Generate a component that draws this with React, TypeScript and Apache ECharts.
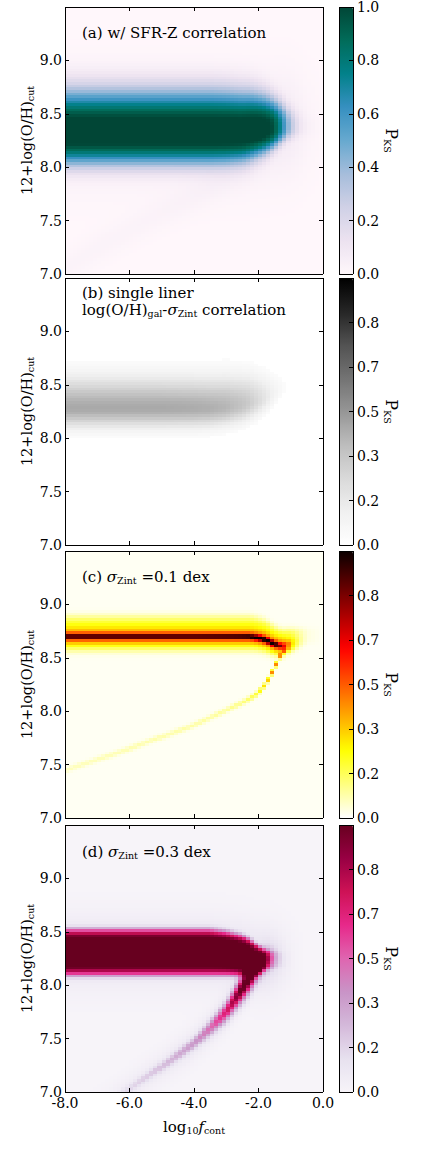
import React, { useEffect, useRef } from "react";
import * as echarts from "echarts";

// ---------- values ----------
// x positions (log10 f_cont) at which ridge parameters were read
const X_KEYS = [-8, -7, -6, -5, -4, -3.5, -3, -2.5, -2.25, -2, -1.75, -1.5, -1.25, -1, -0.75, -0.5, 0];

// Panel (a): w/ SFR-Z correlation
const A_BAND_CENTER = [8.34, 8.34, 8.34, 8.34, 8.34, 8.34, 8.34, 8.34, 8.35, 8.36, 8.37, 8.38, 8.39, 8.39, 8.39, 8.39, 8.39];
const A_HALF_UP = [0.32, 0.32, 0.32, 0.32, 0.32, 0.32, 0.315, 0.305, 0.295, 0.275, 0.25, 0.215, 0.175, 0.135, 0.11, 0.1, 0.1];
const A_HALF_DOWN = [0.27, 0.27, 0.27, 0.27, 0.27, 0.27, 0.265, 0.25, 0.24, 0.22, 0.2, 0.17, 0.135, 0.1, 0.09, 0.09, 0.09];
const A_BAND_PEAK = [0.99, 0.99, 0.99, 0.99, 0.99, 0.99, 0.99, 0.99, 0.99, 0.99, 0.96, 0.88, 0.6, 0.25, 0.07, 0.02, 0];
const A_HALO_PEAK = [0.08, 0.08, 0.08, 0.08, 0.08, 0.08, 0.08, 0.08, 0.08, 0.08, 0.08, 0.08, 0.08, 0.07, 0.05, 0.025, 0.005];
const A_BRANCH_CENTER = [7.05, 7.24, 7.41, 7.57, 7.72, 7.8, 7.88, 7.96, 8.0, 8.05, 8.12, 8.2, 8.28, 8.33, 8.35, 8.36, 8.36];
const A_BRANCH_PEAK = [0.025, 0.025, 0.025, 0.025, 0.025, 0.025, 0.025, 0.025, 0.025, 0.025, 0.02, 0.015, 0.01, 0.005, 0, 0, 0];

// Panel (b): single liner
const B_BAND_CENTER = [8.28, 8.28, 8.28, 8.28, 8.28, 8.28, 8.29, 8.31, 8.33, 8.35, 8.38, 8.42, 8.47, 8.5, 8.5, 8.5, 8.5];
const B_SIGMA_UP = [0.28, 0.28, 0.28, 0.28, 0.28, 0.28, 0.28, 0.27, 0.26, 0.24, 0.21, 0.17, 0.12, 0.1, 0.1, 0.1, 0.1];
const B_SIGMA_DOWN = [0.17, 0.17, 0.17, 0.17, 0.17, 0.165, 0.16, 0.155, 0.15, 0.14, 0.13, 0.12, 0.1, 0.08, 0.08, 0.08, 0.08];
const B_PEAK = [0.43, 0.43, 0.43, 0.43, 0.42, 0.41, 0.39, 0.34, 0.3, 0.24, 0.17, 0.1, 0.045, 0.01, 0, 0, 0];

// Panel (c): sigma = 0.1 dex
const C_CORE_CENTER = [8.7, 8.7, 8.7, 8.7, 8.7, 8.7, 8.7, 8.7, 8.7, 8.69, 8.67, 8.63, 8.61, 8.64, 8.66, 8.68, 8.68];
const C_CORE_PEAK = [0.48, 0.48, 0.48, 0.48, 0.48, 0.49, 0.5, 0.52, 0.54, 0.56, 0.58, 0.6, 0.3, 0.05, 0, 0, 0];
const C_MID_PEAK = [0.25, 0.25, 0.25, 0.25, 0.25, 0.25, 0.25, 0.25, 0.25, 0.25, 0.25, 0.25, 0.22, 0.12, 0.04, 0, 0];
const C_WING_PEAK = [0.22, 0.22, 0.22, 0.22, 0.22, 0.22, 0.22, 0.22, 0.22, 0.22, 0.22, 0.22, 0.21, 0.15, 0.07, 0.02, 0];
const C_WING_HALF = [0.145, 0.145, 0.145, 0.145, 0.145, 0.145, 0.145, 0.145, 0.145, 0.14, 0.135, 0.125, 0.115, 0.1, 0.085, 0.07, 0.07];
const C_BRANCH_CENTER = [7.45, 7.55, 7.65, 7.76, 7.87, 7.94, 8.01, 8.08, 8.12, 8.17, 8.26, 8.4, 8.56, 8.6, 8.6, 8.6, 8.6];
const C_BRANCH_PEAK = [0.055, 0.06, 0.065, 0.07, 0.075, 0.08, 0.09, 0.11, 0.14, 0.2, 0.3, 0.45, 0.3, 0.05, 0, 0, 0];
const C_BASE = 0.012;

// Panel (d): sigma = 0.3 dex
const D_BAND_CENTER = [8.31, 8.31, 8.31, 8.31, 8.31, 8.31, 8.3, 8.28, 8.26, 8.24, 8.24, 8.24, 8.24, 8.24, 8.24, 8.24, 8.24];
const D_BAND_HALF = [0.2, 0.2, 0.2, 0.2, 0.2, 0.2, 0.19, 0.175, 0.16, 0.125, 0.09, 0.075, 0.07, 0.07, 0.07, 0.07, 0.07];
const D_BAND_PEAK = [0.96, 0.96, 0.96, 0.96, 0.96, 0.96, 0.96, 0.95, 0.92, 0.75, 0.38, 0.1, 0.03, 0, 0, 0, 0];
const D_HALO_PEAK = [0.12, 0.12, 0.12, 0.12, 0.12, 0.12, 0.12, 0.12, 0.12, 0.12, 0.12, 0.1, 0.06, 0.03, 0.01, 0, 0];
const D_BRANCH_CENTER = [6.6, 6.82, 7.03, 7.24, 7.46, 7.6, 7.75, 7.97, 8.08, 8.18, 8.24, 8.26, 8.27, 8.27, 8.27, 8.27, 8.27];
const D_BRANCH_PEAK = [0.08, 0.08, 0.1, 0.17, 0.28, 0.38, 0.58, 0.88, 0.92, 0.75, 0.4, 0.1, 0, 0, 0, 0, 0];
const D_BRANCH_WIDTH = [0.04, 0.04, 0.04, 0.045, 0.05, 0.065, 0.08, 0.11, 0.12, 0.1, 0.085, 0.08, 0.08, 0.08, 0.08, 0.08, 0.08];
const D_BRANCH_HALO = [0.04, 0.04, 0.05, 0.06, 0.08, 0.09, 0.1, 0.12, 0.12, 0.12, 0.1, 0.06, 0.02, 0, 0, 0, 0];

// axes / colour bar ticks
const X_TICKS = { min: -8, max: 0, interval: 2 };
const Y_TICKS = { min: 7, max: 9.5, interval: 0.5 };
const CB_MAX = [1.0, 0.98, 0.98, 0.98];
const CB_INTERVALS = [0.2, 0.98 / 6, 0.98 / 6, 0.98 / 6];

// ---------- colour maps (matplotlib) ----------
const PUBUGN = ["#fff7fb", "#ece2f0", "#d0d1e6", "#a6bddb", "#67a9cf", "#3690c0", "#02818a", "#016c59", "#014636"];
const GREYS = ["#ffffff", "#f0f0f0", "#d9d9d9", "#bdbdbd", "#969696", "#737373", "#525252", "#252525", "#000000"];
const PURD = ["#f7f4f9", "#e7e1ef", "#d4b9da", "#c994c7", "#df65b0", "#e7298a", "#ce1256", "#980043", "#67001f"];
function hot(t: number) {
  const r = t < 0.365079 ? 0.0416 + (1 - 0.0416) * (t / 0.365079) : 1;
  const g = t < 0.365079 ? 0 : t < 0.746032 ? (t - 0.365079) / (0.746032 - 0.365079) : 1;
  const b = t < 0.746032 ? 0 : (t - 0.746032) / (1 - 0.746032);
  const h = (v: number) => Math.round(Math.max(0, Math.min(1, v)) * 255).toString(16).padStart(2, "0");
  return "#" + h(r) + h(g) + h(b);
}
const HOT_R = Array.from({ length: 41 }, (_, k) => hot(1 - k / 40));

// ---------- layout ----------
const PANEL_TOPS = [7, 278, 551, 825];
const PANEL_H = 267;
const PLOT_LEFT = 65;
const PLOT_W = 258;
const CB_LEFT = 339;
const CB_W = 14;
const FONT = "DejaVu Serif";

const NX = 64;
const NY = 100;

function at(vals: number[], x: number) {
  if (x <= X_KEYS[0]) return vals[0];
  for (let k = 1; k < X_KEYS.length; k++) {
    if (x <= X_KEYS[k]) {
      const t = (x - X_KEYS[k - 1]) / (X_KEYS[k] - X_KEYS[k - 1]);
      return vals[k - 1] + t * (vals[k] - vals[k - 1]);
    }
  }
  return vals[vals.length - 1];
}
const sg = (d: number, h: number, n: number) => (h <= 0 ? 0 : Math.exp(-Math.LN2 * Math.pow(Math.abs(d) / h, n)));
const ga = (d: number, s: number) => Math.exp(-(d * d) / (s * s));

function valueA(x: number, y: number) {
  const c = at(A_BAND_CENTER, x);
  const d = y - c;
  const band = d > 0 ? sg(d, at(A_HALF_UP, x), 2.5) : sg(d, at(A_HALF_DOWN, x), 3);
  const v =
    at(A_BAND_PEAK, x) * band +
    at(A_HALO_PEAK, x) * ga(d, 0.45) +
    at(A_BRANCH_PEAK, x) * ga(y - at(A_BRANCH_CENTER, x), 0.15);
  return Math.min(1, v);
}
function valueB(x: number, y: number) {
  const d = y - at(B_BAND_CENTER, x);
  const s = d > 0 ? at(B_SIGMA_UP, x) : at(B_SIGMA_DOWN, x);
  const v = at(B_PEAK, x) * ga(d, s);
  return v < 0.03 ? 0 : v;
}
function valueC(x: number, y: number) {
  const c = at(C_CORE_CENTER, x);
  const d = y - c;
  const v =
    C_BASE +
    at(C_CORE_PEAK, x) * ga(d, 0.026) +
    at(C_MID_PEAK, x) * ga(d, 0.07) +
    at(C_WING_PEAK, x) * sg(d - 0.03, at(C_WING_HALF, x), 4) +
    at(C_BRANCH_PEAK, x) * ga(y - at(C_BRANCH_CENTER, x), 0.025);
  return Math.min(0.98, v);
}
function valueD(x: number, y: number) {
  const c = at(D_BAND_CENTER, x);
  const bc = at(D_BRANCH_CENTER, x);
  const v =
    at(D_BAND_PEAK, x) * sg(y - c, at(D_BAND_HALF, x), 6) +
    at(D_HALO_PEAK, x) * ga(y - c, 0.3) +
    at(D_BRANCH_PEAK, x) * ga(y - bc, at(D_BRANCH_WIDTH, x)) +
    at(D_BRANCH_HALO, x) * ga(y - bc, 0.15);
  return Math.min(0.98, v);
}

const xCenters = Array.from({ length: NX }, (_, i) => X_TICKS.min + ((i + 0.5) * (X_TICKS.max - X_TICKS.min)) / NX);
const yCenters = Array.from({ length: NY }, (_, j) => Y_TICKS.min + ((j + 0.5) * (Y_TICKS.max - Y_TICKS.min)) / NY);

function grid(fn: (x: number, y: number) => number) {
  const out: number[][] = [];
  for (let j = 0; j < NY; j++) for (let i = 0; i < NX; i++) out.push([i, j, Math.round(fn(xCenters[i], yCenters[j]) * 1000) / 1000]);
  return out;
}

const PANELS = [
  { fn: valueA, colors: PUBUGN },
  { fn: valueB, colors: GREYS },
  { fn: valueC, colors: HOT_R },
  { fn: valueD, colors: PURD },
];

const TITLES = [
  "(a) w/ SFR-Z correlation",
  "(b) single liner\nlog(O/H){sub|gal}-{it|σ}{sub|Zint} correlation",
  "(c) {it|σ}{sub|Zint} =0.1 dex",
  "(d) {it|σ}{sub|Zint} =0.3 dex",
];
const TITLE_Y = [33, 301, 577, 852];

const RICH = {
  sub: { fontSize: 9.5, fontFamily: FONT, fill: "#000", verticalAlign: "bottom", lineHeight: 10 },
  it: { fontSize: 15, fontFamily: FONT, fill: "#000", fontStyle: "italic" },
};

function buildOption() {
  const grids: any[] = [];
  const xAxes: any[] = [];
  const yAxes: any[] = [];
  const series: any[] = [];
  const visualMaps: any[] = [];
  const graphics: any[] = [];
  const line = { show: true, onZero: false, lineStyle: { color: "#000", width: 1 } };
  const lab = { fontFamily: FONT, fontSize: 14, color: "#000" };

  PANELS.forEach((p, i) => {
    grids[i] = { left: PLOT_LEFT, top: PANEL_TOPS[i], width: PLOT_W, height: PANEL_H };
    grids[4 + i] = { left: PLOT_LEFT, top: PANEL_TOPS[i], width: PLOT_W, height: PANEL_H };
    grids[8 + i] = { left: CB_LEFT, top: PANEL_TOPS[i], width: CB_W, height: PANEL_H };

    xAxes[i] = { type: "category", gridIndex: i, data: xCenters.map((v) => v.toFixed(4)), show: false };
    yAxes[i] = { type: "category", gridIndex: i, data: yCenters.map((v) => v.toFixed(4)), show: false };

    const common = { type: "value", splitLine: { show: false }, axisLine: line, z: 10 };
    const tick = { show: true, inside: true, length: 4, lineStyle: { color: "#000" } };
    xAxes[4 + i] = {
      ...common, gridIndex: 4 + i, position: "bottom", ...X_TICKS, axisTick: tick,
      axisLabel: { show: i === 3, ...lab, margin: 4, formatter: (v: number) => v.toFixed(1) },
    };
    xAxes[8 + i] = { ...common, gridIndex: 4 + i, position: "top", ...X_TICKS, axisTick: tick, axisLabel: { show: false } };
    yAxes[4 + i] = {
      ...common, gridIndex: 4 + i, position: "left", ...Y_TICKS, axisTick: tick,
      axisLabel: { show: true, ...lab, margin: 3, formatter: (v: number) => (Math.abs(v - 9.5) < 1e-6 ? "" : v.toFixed(1)) },
    };
    yAxes[8 + i] = { ...common, gridIndex: 4 + i, position: "right", ...Y_TICKS, axisTick: tick, axisLabel: { show: false } };
    // colour bar frame + ticks
    xAxes[12 + i] = { ...common, gridIndex: 8 + i, position: "bottom", min: 0, max: 1, axisTick: { show: false }, axisLabel: { show: false } };
    xAxes[16 + i] = { ...common, gridIndex: 8 + i, position: "top", min: 0, max: 1, axisTick: { show: false }, axisLabel: { show: false } };
    yAxes[12 + i] = { ...common, gridIndex: 8 + i, position: "left", min: 0, max: CB_MAX[i], interval: CB_INTERVALS[i], axisTick: { show: false }, axisLabel: { show: false } };
    yAxes[16 + i] = {
      ...common, gridIndex: 8 + i, position: "right", min: 0, max: CB_MAX[i], interval: CB_INTERVALS[i], axisTick: tick,
      axisLabel: { show: true, ...lab, margin: 4, formatter: (v: number) => (i > 0 && v > 0.95 ? "" : v.toFixed(1)) },
    };

    series.push({
      type: "heatmap", xAxisIndex: i, yAxisIndex: i, data: grid(p.fn),
      progressive: 0, progressiveThreshold: 1e8, silent: true, emphasis: { disabled: true },
    });
    visualMaps.push({
      type: "continuous", seriesIndex: i, min: 0, max: CB_MAX[i], inRange: { color: p.colors },
      show: true, calculable: false, hoverLink: false, orient: "vertical",
      left: CB_LEFT, top: PANEL_TOPS[i], itemWidth: CB_W, itemHeight: PANEL_H, padding: 0,
    });

    const mid = PANEL_TOPS[i] + PANEL_H / 2;
    graphics.push({
      type: "text", x: 82, y: TITLE_Y[i], z: 50,
      style: { text: TITLES[i], fontFamily: FONT, fontSize: 15, fill: "#000", lineHeight: 17, align: "left", verticalAlign: "middle", rich: RICH },
    });
    graphics.push({
      type: "text", x: 27, y: mid, rotation: Math.PI / 2, z: 50,
      style: { text: "12+log(O/H){sub|cut}", fontFamily: FONT, fontSize: 14.5, fill: "#000", lineHeight: 17, align: "center", verticalAlign: "middle", rich: RICH },
    });
    graphics.push({
      type: "text", x: 391, y: mid, rotation: -Math.PI / 2, z: 50,
      style: { text: "P{sub|KS}", fontFamily: FONT, fontSize: 16, fill: "#000", lineHeight: 18, align: "center", verticalAlign: "middle", rich: RICH },
    });
  });

  graphics.push({
    type: "text", x: PLOT_LEFT + PLOT_W / 2, y: 1127, z: 50,
    style: { text: "log{sub|10}{it|f}{sub|cont}", fontFamily: FONT, fontSize: 15, fill: "#000", lineHeight: 17, align: "center", verticalAlign: "middle", rich: RICH },
  });

  return {
    animation: false,
    backgroundColor: "#ffffff",
    grid: grids,
    xAxis: xAxes,
    yAxis: yAxes,
    visualMap: visualMaps,
    series,
    graphic: graphics,
  };
}

export default function App() {
  const ref = useRef<HTMLDivElement>(null);
  useEffect(() => {
    if (!ref.current) return;
    const chart = echarts.init(ref.current, null, { renderer: "svg" });
    chart.setOption(buildOption() as any);
    return () => chart.dispose();
  }, []);
  return (
    <>
      <style>{`.chart-root svg path { shape-rendering: crispEdges; }`}</style>
      <div
        ref={ref}
        className="chart-root"
        style={{ position: "absolute", left: 0, top: 0, width: 436, height: 1162, background: "#fff" }}
      />
    </>
  );
}
